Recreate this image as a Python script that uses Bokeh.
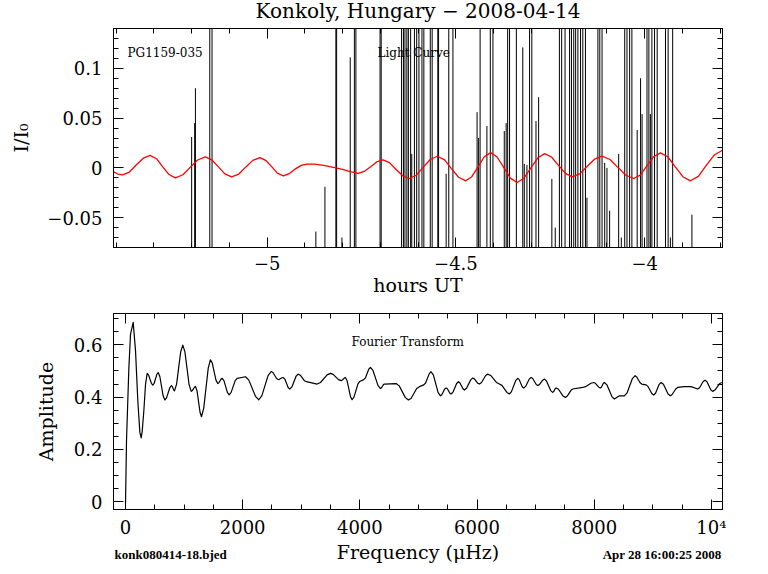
import math
from bokeh.plotting import figure
from bokeh.models import (Range1d, SingleIntervalTicker, LinearAxis,
                          CustomJSTickFormatter, Label, ColumnDataSource)
from bokeh.layouts import column
from bokeh.embed import file_html
from bokeh.resources import INLINE

# ---------------- data ----------------
# light curve excursions: time (hours UT) and value reached (1.0 = off the top of the plot)
lc_time = [-5.200, -5.192, -5.190, -5.152, -5.146,
           -4.871, -4.847, -4.818, -4.816, -4.802, -4.780, -4.769, -4.765, -4.701, -4.698,
           -4.644, -4.639, -4.635, -4.630, -4.626, -4.620, -4.617, -4.610, -4.604, -4.598,
           -4.590, -4.585, -4.568, -4.563, -4.548, -4.546, -4.526, -4.519, -4.508,
           -4.444, -4.440, -4.436, -4.418, -4.409, -4.402, -4.372, -4.367, -4.363, -4.358,
           -4.340, -4.323, -4.319, -4.312, -4.305, -4.299, -4.288, -4.281, -4.246, -4.237,
           -4.226, -4.220, -4.211,
           -4.199, -4.194, -4.188, -4.183, -4.177, -4.170, -4.164, -4.157, -4.153, -4.124,
           -4.119, -4.113, -4.106, -4.100, -4.093, -4.069, -4.062, -4.053, -4.047, -4.040,
           -4.034, -4.020, -4.011, -4.007, -3.994, -3.989, -3.985, -3.981, -3.974, -3.967,
           -3.945, -3.938, -3.932, -3.926, -3.875]
lc_peak = [0.031, 0.045, 0.080, 1.0, 1.0,
           -0.064, -0.019, 1.0, 1.0, -0.070, 0.111, 1.0, 1.0, 1.0, 1.0,
           1.0, 1.0, 1.0, 1.0, 1.0, 1.0, 0.014, 1.0, 1.0, 1.0,
           1.0, 1.0, 1.0, 1.0, 1.0, 1.0, -0.006, 1.0, 1.0,
           0.056, 0.030, 1.0, 0.042, 1.0, 1.0, 0.037, 0.045, 1.0, 1.0,
           1.0, 0.121, 0.004, 0.003, 1.0, 1.0, 0.047, 0.071, -0.011, -0.060,
           1.0, 1.0, 1.0,
           1.0, 1.0, 1.0, 1.0, 1.0, 1.0, 1.0, 1.0, -0.030, 1.0,
           1.0, 1.0, 0.005, 0.000, -0.043, 0.014, -0.070, 1.0, 1.0, 1.0,
           1.0, 0.038, 0.090, 0.054, 1.0, 1.0, 0.054, 1.0, 1.0, 1.0,
           1.0, 1.0, -0.070, 1.0, -0.047]
LC_FLOOR = -1.0  # light curve sits below the plotted window between excursions

# fitted model (red curve)
model_time = [-5.407, -5.395, -5.383, -5.365, -5.347, -5.328, -5.310, -5.293, -5.277, -5.260,
              -5.243, -5.223, -5.204, -5.184, -5.164, -5.147, -5.129, -5.112, -5.094, -5.075,
              -5.057, -5.038, -5.019, -5.004, -4.988, -4.973, -4.957, -4.940, -4.925, -4.910,
              -4.895, -4.875, -4.850, -4.825, -4.800, -4.780, -4.759, -4.743, -4.726, -4.710,
              -4.693, -4.676, -4.659, -4.641, -4.624, -4.605, -4.587, -4.568, -4.549, -4.530,
              -4.512, -4.493, -4.474, -4.458, -4.441, -4.425, -4.408, -4.391, -4.373, -4.356,
              -4.338, -4.320, -4.302, -4.283, -4.265, -4.247, -4.229, -4.210, -4.192, -4.172,
              -4.153, -4.133, -4.113, -4.092, -4.071, -4.050, -4.029, -4.011, -3.994, -3.976,
              -3.958, -3.938, -3.919, -3.899, -3.879, -3.858, -3.837, -3.815, -3.794]
model_flux = [-0.0040, -0.0062, -0.0070, -0.0042, 0.0028, 0.0097, 0.0125, 0.0092, 0.0013, -0.0067,
              -0.0100, -0.0069, 0.0005, 0.0079, 0.0110, 0.0081, 0.0010, -0.0061, -0.0090, -0.0062,
              0.0007, 0.0075, 0.0103, 0.0076, 0.0012, -0.0053, -0.0080, -0.0055, -0.0010, 0.0025,
              0.0038, 0.0037, 0.0025, 0.0005, -0.0015, -0.0038, -0.0056, -0.0036, 0.0012, 0.0060,
              0.0080, 0.0053, -0.0014, -0.0080, -0.0107, -0.0074, 0.0005, 0.0084, 0.0117, 0.0081,
              -0.0007, -0.0094, -0.0130, -0.0089, 0.0012, 0.0112, 0.0153, 0.0109, 0.0003, -0.0103,
              -0.0147, -0.0105, -0.0002, 0.0101, 0.0143, 0.0109, 0.0027, -0.0056, -0.0090, -0.0060,
              0.0014, 0.0087, 0.0117, 0.0084, 0.0005, -0.0074, -0.0107, -0.0070, 0.0022, 0.0113,
              0.0150, 0.0109, 0.0010, -0.0089, -0.0130, -0.0085, 0.0024, 0.0132, 0.0177]

# Fourier transform (frequency in microHz, amplitude)
ft_freq = [0, 17, 57, 85, 131, 171, 210, 245, 268, 285,
           313, 342, 370, 394, 442, 466, 489, 535, 558, 586,
           643, 671, 700, 756, 785, 798, 823, 836, 872, 942,
           978, 1014, 1085, 1121, 1140, 1176, 1195, 1221, 1272, 1297,
           1335, 1412, 1450, 1481, 1544, 1575, 1594, 1631, 1650, 1680,
           1739, 1769, 1803, 1872, 1906, 2048, 2105, 2218, 2275, 2328,
           2433, 2486, 2516, 2576, 2606, 2627, 2670, 2691, 2719, 2776,
           2804, 2840, 2911, 2947, 2983, 3053, 3089, 3271, 3328, 3441,
           3498, 3544, 3635, 3681, 3699, 3736, 3754, 3782, 3840, 3868,
           3900, 3966, 3998, 4067, 4096, 4152, 4181, 4224, 4309, 4352,
           4369, 4403, 4420, 4619, 4672, 4777, 4829, 4876, 4970, 5017,
           5091, 5122, 5185, 5216, 5256, 5335, 5375, 5399, 5448, 5472,
           5494, 5537, 5558, 5589, 5652, 5683, 5709, 5760, 5785, 5821,
           5892, 5927, 5956, 6013, 6041, 6077, 6148, 6183, 6233, 6332,
           6382, 6425, 6510, 6553, 6588, 6659, 6694, 6720, 6771, 6797,
           6829, 6892, 6923, 6951, 7008, 7036, 7065, 7122, 7150, 7186,
           7257, 7292, 7307, 7336, 7350, 7390, 7469, 7509, 7540, 7603,
           7634, 7804, 7851, 7945, 7992, 8021, 8078, 8106, 8123, 8157,
           8174, 8217, 8302, 8345, 8430, 8515, 8561, 8652, 8698, 8726,
           8783, 8811, 8886, 8918, 8983, 9015, 9047, 9110, 9142, 9182,
           9261, 9300, 9331, 9394, 9425, 9539, 9653, 9766, 9798, 9860,
           9892, 9925, 9990, 10022, 10061, 10138, 10176]
ft_amp = [-0.01, 0.233, 0.51, 0.64, 0.686, 0.577, 0.386, 0.265, 0.244, 0.27,
          0.348, 0.45, 0.491, 0.484, 0.453, 0.446, 0.453, 0.487, 0.494, 0.479,
          0.404, 0.389, 0.397, 0.436, 0.444, 0.441, 0.427, 0.424, 0.450, 0.574,
          0.599, 0.573, 0.448, 0.422, 0.425, 0.438, 0.441, 0.424, 0.342, 0.325,
          0.357, 0.511, 0.543, 0.530, 0.465, 0.452, 0.455, 0.469, 0.472, 0.463,
          0.418, 0.409, 0.418, 0.463, 0.472, 0.478, 0.465, 0.403, 0.390, 0.406,
          0.482, 0.498, 0.494, 0.472, 0.467, 0.468, 0.474, 0.475, 0.469, 0.437,
          0.431, 0.439, 0.480, 0.488, 0.484, 0.463, 0.459, 0.450, 0.456, 0.485,
          0.491, 0.487, 0.467, 0.463, 0.465, 0.473, 0.475, 0.463, 0.402, 0.390,
          0.400, 0.450, 0.460, 0.467, 0.474, 0.507, 0.514, 0.502, 0.445, 0.433,
          0.436, 0.448, 0.450, 0.452, 0.443, 0.398, 0.389, 0.396, 0.433, 0.440,
          0.447, 0.454, 0.490, 0.497, 0.484, 0.418, 0.405, 0.409, 0.431, 0.435,
          0.432, 0.415, 0.412, 0.419, 0.452, 0.459, 0.454, 0.432, 0.427, 0.434,
          0.466, 0.473, 0.470, 0.453, 0.450, 0.456, 0.483, 0.488, 0.483, 0.456,
          0.450, 0.445, 0.418, 0.412, 0.421, 0.463, 0.472, 0.467, 0.440, 0.435,
          0.441, 0.469, 0.475, 0.471, 0.449, 0.444, 0.448, 0.465, 0.469, 0.462,
          0.425, 0.418, 0.421, 0.433, 0.435, 0.430, 0.404, 0.399, 0.404, 0.426,
          0.431, 0.437, 0.440, 0.453, 0.456, 0.453, 0.438, 0.435, 0.438, 0.453,
          0.456, 0.447, 0.402, 0.393, 0.405, 0.405, 0.416, 0.471, 0.482, 0.477,
          0.455, 0.450, 0.447, 0.441, 0.414, 0.408, 0.415, 0.449, 0.456, 0.449,
          0.412, 0.405, 0.410, 0.432, 0.437, 0.440, 0.440, 0.431, 0.436, 0.460,
          0.465, 0.459, 0.428, 0.422, 0.427, 0.451, 0.456]

TITLE = "Konkoly, Hungary \u2212 2008-04-14"
STAR = "PG1159-035"
FILE_NAME = "konk080414-18.bjed"
STAMP = "Apr 28 16:00:25 2008"

# ---------------- layout constants (page pixels) ----------------
SERIF = "DejaVu Serif"
LB, FW, RB = 113, 609, 40
T_RANGE = (-5.407, -3.794)
I_RANGE = (-0.08, 0.14)
F_RANGE = (-205, 10190)
A_RANGE = (-0.03, 0.72)
TITLE_H = 24
TOP_BT, TOP_FH, TOP_BB = 4, 219, 56
BOT_BT, BOT_FH, BOT_BB = 10, 196, 28
FOOT_Y0 = TITLE_H + TOP_BT + TOP_FH + TOP_BB + BOT_BT + BOT_FH + BOT_BB
FOOT_H = 574 - FOOT_Y0
TOP_FRAME_Y0 = TITLE_H + TOP_BT
BOT_FRAME_Y0 = TOP_FRAME_Y0 + TOP_FH + TOP_BB + BOT_BT
BASE_SHIFT = 0.4  # labels are drawn ~0.4 em below the requested baseline


def tx(px):
    return T_RANGE[0] + (px - LB) / FW * (T_RANGE[1] - T_RANGE[0])


def ty(py):
    return I_RANGE[1] - (py - TOP_FRAME_Y0) / TOP_FH * (I_RANGE[1] - I_RANGE[0])


def bx(px):
    return F_RANGE[0] + (px - LB) / FW * (F_RANGE[1] - F_RANGE[0])


def by(py):
    return A_RANGE[1] - (py - BOT_FRAME_Y0) / BOT_FH * (A_RANGE[1] - A_RANGE[0])


def style_axis(ax, ticker, code, standoff, size="18px"):
    ax.ticker = ticker
    ax.formatter = CustomJSTickFormatter(code=code)
    ax.axis_line_color = "black"
    ax.axis_line_width = 1
    ax.major_tick_in = 10
    ax.major_tick_out = 0
    ax.minor_tick_in = 5
    ax.minor_tick_out = 0
    ax.major_tick_line_color = "black"
    ax.minor_tick_line_color = "black"
    ax.major_label_text_font = SERIF
    ax.major_label_text_font_size = size
    ax.major_label_text_color = "black"
    ax.major_label_standoff = standoff
    ax.axis_label_text_font = SERIF
    ax.axis_label_text_font_size = "19px"
    ax.axis_label_text_font_style = "normal"
    ax.axis_label_text_color = "black"


def make_fig(xr, yr, fh, bt, bb):
    p = figure(frame_width=FW, frame_height=fh, x_range=Range1d(*xr), y_range=Range1d(*yr),
               output_backend="svg", toolbar_location=None,
               min_border_left=LB, min_border_right=RB, min_border_top=bt, min_border_bottom=bb,
               background_fill_color="white", border_fill_color="white")
    p.outline_line_color = "black"
    p.outline_line_width = 1
    p.xgrid.visible = False
    p.ygrid.visible = False
    return p


def add_mirrors(p, xtick, ytick):
    up = LinearAxis()
    style_axis(up, xtick, "return ''", 0, "1px")
    p.add_layout(up, "above")
    rt = LinearAxis()
    style_axis(rt, ytick, "return ''", 0, "1px")
    p.add_layout(rt, "right")


def make_strip(y0, h):
    # the column aligns this strip's frame with the panels' frames (x = LB .. LB+FW),
    # so data x equals page x and data y equals page y
    s = figure(frame_width=FW, frame_height=h, x_range=Range1d(LB, LB + FW),
               y_range=Range1d(y0 + h, y0),
               output_backend="svg", toolbar_location=None,
               min_border_left=LB, min_border_right=RB, min_border_top=0, min_border_bottom=0,
               x_axis_location=None, y_axis_location=None,
               background_fill_color="white", border_fill_color="white")
    s.outline_line_color = None
    s.xgrid.visible = False
    s.ygrid.visible = False
    return s


def lab(p, x, y, text, size_px, align="left", font=SERIF, style="normal", conv=None):
    yb = y - BASE_SHIFT * size_px
    yy = conv(yb) if conv else yb
    p.add_layout(Label(x=x, y=yy, text=text, text_font=font, text_font_size=f"{size_px}px",
                       text_font_style=style, text_color="black", text_align=align,
                       text_baseline="alphabetic"))


# ---------------- title strip ----------------
head = make_strip(0, TITLE_H)
lab(head, LB + FW / 2, 18.5, TITLE, 20, align="center")

# ---------------- top panel: light curve ----------------
top = make_fig(T_RANGE, I_RANGE, TOP_FH, TOP_BT, TOP_BB)
x_code_t = "const v = Math.round(tick*10)/10; return (v < 0 ? '\u2212' : '') + Math.abs(v).toString();"
y_code_t = ("const v = Math.round(tick*100)/100; if (v === 0) return '0';"
            " return (v < 0 ? '\u2212' : '') + Math.abs(v).toString();")
style_axis(top.xaxis[0], SingleIntervalTicker(interval=0.5, num_minor_ticks=5), x_code_t, 8)
style_axis(top.yaxis[0], SingleIntervalTicker(interval=0.05, num_minor_ticks=5), y_code_t, 11)
top.xaxis[0].axis_label = "hours UT"
top.xaxis[0].axis_label_standoff = 1
top.yaxis[0].axis_label = "I/I\u2080"
top.yaxis[0].axis_label_standoff = 12
add_mirrors(top, SingleIntervalTicker(interval=0.5, num_minor_ticks=5),
            SingleIntervalTicker(interval=0.05, num_minor_ticks=5))

lc_src = ColumnDataSource(dict(t=lc_time, lo=[LC_FLOOR] * len(lc_time), hi=lc_peak))
top.segment(x0="t", y0="lo", x1="t", y1="hi", source=lc_src, line_color="black", line_width=1)
top.line(model_time, model_flux, line_color="#ff0000", line_width=1.3)

lab(top, tx(127), 57, STAR, 12, conv=ty)
lab(top, tx(377), 57, "Light Curve", 12, conv=ty)

# ---------------- bottom panel: Fourier transform ----------------
bot = make_fig(F_RANGE, A_RANGE, BOT_FH, BOT_BT, BOT_BB)
x_code_b = "const v = Math.round(tick); return v === 10000 ? '10\u2074' : v.toString();"
y_code_b = "const v = Math.round(tick*10)/10; return v.toString();"
style_axis(bot.xaxis[0], SingleIntervalTicker(interval=2000, num_minor_ticks=4), x_code_b, 7)
style_axis(bot.yaxis[0], SingleIntervalTicker(interval=0.2, num_minor_ticks=4), y_code_b, 11)
bot.yaxis[0].axis_label = "Amplitude"
bot.yaxis[0].axis_label_standoff = 14
add_mirrors(bot, SingleIntervalTicker(interval=2000, num_minor_ticks=4),
            SingleIntervalTicker(interval=0.2, num_minor_ticks=4))

bot.line(ft_freq, ft_amp, line_color="black", line_width=1.2, line_join="round")
lab(bot, bx(351), 346, "Fourier Transform", 12, conv=by)

# ---------------- footer strip ----------------
foot = make_strip(FOOT_Y0, FOOT_H)
lab(foot, LB + FW / 2, 556, "Frequency (\u03bcHz)", 19, align="center")
lab(foot, LB + 1, 556, FILE_NAME, 13, align="left", font="Liberation Serif", style="bold")
lab(foot, LB + FW - 1, 556, STAMP, 13, align="right", font="Liberation Serif", style="bold")

layout = column(head, top, bot, foot, spacing=0)
open("out.html", "w").write(file_html(layout, INLINE))
